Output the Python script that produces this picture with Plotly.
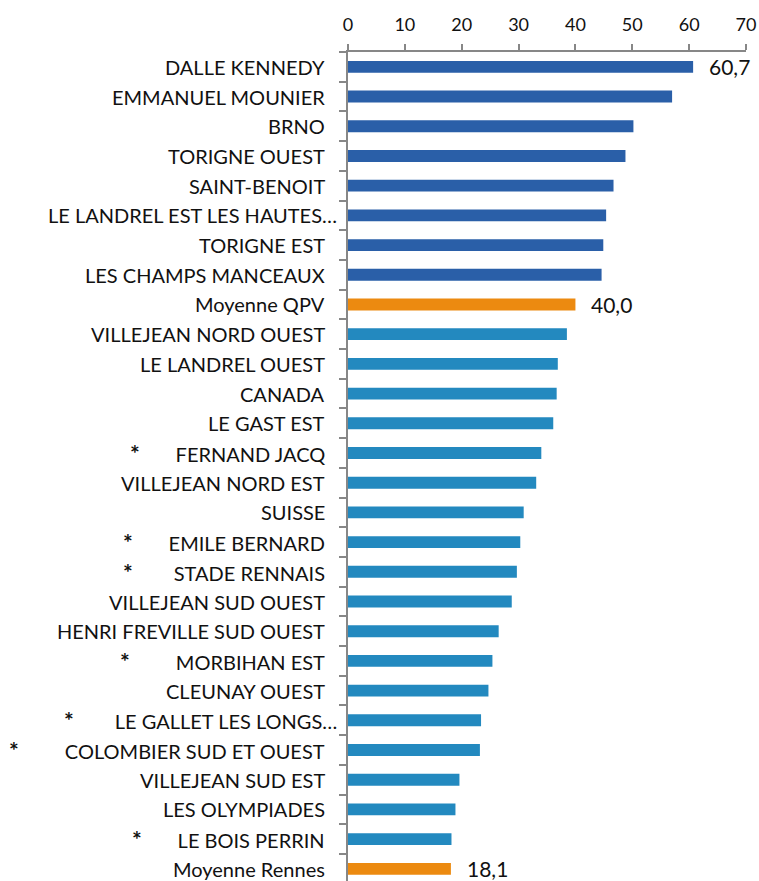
import plotly.graph_objects as go

# ---- data ----
categories = [
    "DALLE KENNEDY", "EMMANUEL MOUNIER", "BRNO", "TORIGNE OUEST", "SAINT-BENOIT",
    "LE LANDREL EST LES HAUTES…", "TORIGNE EST", "LES CHAMPS MANCEAUX", "Moyenne QPV",
    "VILLEJEAN NORD OUEST", "LE LANDREL OUEST", "CANADA", "LE GAST EST",
    "FERNAND JACQ", "VILLEJEAN NORD EST", "SUISSE", "EMILE BERNARD",
    "STADE RENNAIS", "VILLEJEAN SUD OUEST", "HENRI FREVILLE SUD OUEST",
    "MORBIHAN EST", "CLEUNAY OUEST", "LE GALLET LES LONGS…",
    "COLOMBIER SUD ET OUEST", "VILLEJEAN SUD EST", "LES OLYMPIADES",
    "LE BOIS PERRIN", "Moyenne Rennes",
]
values = [
    60.7, 57.0, 50.2, 48.8, 46.7, 45.4, 44.9, 44.6, 40.0,
    38.5, 36.9, 36.7, 36.1, 34.0, 33.1, 30.9, 30.3, 29.7, 28.8, 26.5,
    25.4, 24.7, 23.4, 23.2, 19.6, 18.9, 18.2, 18.1,
]
starred = ["FERNAND JACQ", "EMILE BERNARD", "STADE RENNAIS", "MORBIHAN EST",
           "LE GALLET LES LONGS…", "COLOMBIER SUD ET OUEST", "LE BOIS PERRIN"]
groups = ["top"] * 8 + ["avg"] + ["other"] * 18 + ["avg"]
labelled = ["DALLE KENNEDY", "Moyenne QPV", "Moyenne Rennes"]
x_ticks = [0, 10, 20, 30, 40, 50, 60, 70]

# ---- styling ----
palette = {"top": "#2A5FA8", "avg": "#EC8A10", "other": "#2389BF"}
colors = [palette[g] for g in groups]
NB = "\u00a0"
star_gap = {"FERNAND JACQ": 7, "EMILE BERNARD": 7, "STADE RENNAIS": 8,
            "MORBIHAN EST": 9, "LE GALLET LES LONGS…": 8,
            "COLOMBIER SUD ET OUEST": 9, "LE BOIS PERRIN": 7}
LABEL_FONT = dict(family="Lato", size=20, color="#111111")
STAR = '<span style="font-size:23px"><b>*</b></span>'

fig = go.Figure(go.Bar(
    x=values, y=categories, orientation="h",
    marker=dict(color=colors, line=dict(width=0)),
    width=0.4, hoverinfo="x+y",
))

# category labels (right-aligned left of the y axis)
for name in categories:
    txt = name
    if name in starred:
        txt = STAR + NB * star_gap[name] + name
    shift = -9 if name.endswith("…") else -21
    fig.add_annotation(
        x=0, y=name, xref="paper", yref="y", text=txt,
        showarrow=False, xanchor="right", xshift=shift, font=LABEL_FONT,
    )

# value labels
for name in labelled:
    v = values[categories.index(name)]
    fig.add_annotation(
        x=v, y=name, xref="x", yref="y",
        text=f"{v:.1f}".replace(".", ","),
        showarrow=False, xanchor="left", xshift=14,
        font=dict(family="Lato", size=21, color="#111111"),
    )

fig.update_layout(
    width=759, height=881,
    margin=dict(l=348, r=13, t=52, b=0),
    paper_bgcolor="white", plot_bgcolor="white",
    showlegend=False,
    font=dict(family="Lato", color="#111111"),
)
fig.update_xaxes(
    side="top", range=[0, 70], tickvals=x_ticks,
    showgrid=False, zeroline=False,
    showline=True, linecolor="#878787", linewidth=2,
    ticks="outside", ticklen=6, tickcolor="#878787", tickwidth=1.5,
    ticklabelstandoff=6,
    tickfont=dict(family="Lato", size=18, color="#111111"),
)
fig.update_yaxes(
    type="category", categoryorder="array", categoryarray=categories,
    range=[27.41, -0.5], showticklabels=False,
    showgrid=False, zeroline=False,
    showline=True, linecolor="#878787", linewidth=2,
    ticks="outside", ticklen=7, tickcolor="#878787", tickwidth=1.5,
    tickson="boundaries",
)

fig.write_html(
    "out.html",
    config={"displayModeBar": False},
    post_script="document.body.style.margin='0';document.body.style.overflow='hidden';",
)
